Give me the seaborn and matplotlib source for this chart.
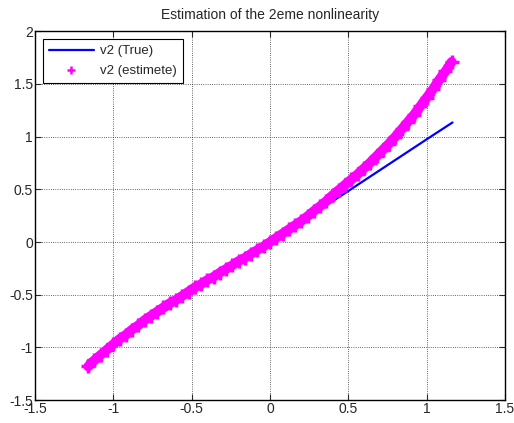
import matplotlib
matplotlib.use("Agg")
import matplotlib.pyplot as plt
import seaborn as sns
import pandas as pd

# ---- data ----
true_x = [-1.165, -0.5, 0.0, 0.5, 1.0, 1.165]
true_y = [-1.13, -0.49, 0.0, 0.485, 0.975, 1.135]

est_x = [-1.16, -1.12, -1.08, -1.04, -1.00, -0.96, -0.92, -0.88, -0.84, -0.80,
         -0.76, -0.72, -0.68, -0.64, -0.60, -0.56, -0.52, -0.48, -0.44, -0.40,
         -0.36, -0.32, -0.28, -0.24, -0.20, -0.16, -0.12, -0.08, -0.04, 0.00,
         0.04, 0.08, 0.12, 0.16, 0.20, 0.24, 0.28, 0.32, 0.36, 0.40,
         0.44, 0.48, 0.52, 0.56, 0.60, 0.64, 0.68, 0.72, 0.76, 0.80,
         0.84, 0.88, 0.92, 0.96, 1.00, 1.04, 1.08, 1.12, 1.16]
est_y = [-1.18, -1.12, -1.07, -1.02, -0.97, -0.92, -0.88, -0.83, -0.79, -0.74,
         -0.70, -0.66, -0.62, -0.58, -0.55, -0.51, -0.47, -0.43, -0.40, -0.36,
         -0.33, -0.29, -0.255, -0.22, -0.18, -0.15, -0.11, -0.075, -0.04, 0.00,
         0.04, 0.08, 0.12, 0.16, 0.20, 0.245, 0.295, 0.34, 0.39, 0.445,
         0.495, 0.545, 0.595, 0.645, 0.70, 0.755, 0.815, 0.875, 0.935, 1.00,
         1.07, 1.14, 1.21, 1.29, 1.37, 1.45, 1.54, 1.62, 1.71]

x_ticks = [-1.5, -1, -0.5, 0, 0.5, 1, 1.5]
y_ticks = [-1.5, -1, -0.5, 0, 0.5, 1, 1.5, 2]
x_labels = ["-1.5", "-1", "-0.5", "0", "0.5", "1", "1.5"]
y_labels = ["-1.5", "-1", "-0.5", "0", "0.5", "1", "1.5", "2"]

title = "Estimation of the 2eme nonlinearity"
label_true = "v2 (True)"
label_est = "v2 (estimete)"

df_true = pd.DataFrame({"x": true_x, "y": true_y})
df_est = pd.DataFrame({"x": est_x, "y": est_y})

sns.set_style("white")
plt.rcParams["font.family"] = ["Liberation Sans", "DejaVu Sans"]

fig = plt.figure(figsize=(5.14, 4.23), dpi=100)
ax = fig.add_axes([0.068, 0.054, 0.9145, 0.872])

sns.lineplot(data=df_true, x="x", y="y", ax=ax, color="#0000ff", linewidth=1.6,
             sort=False, label=label_true, zorder=3)
sns.lineplot(data=df_est, x="x", y="y", ax=ax, color="#ff00ff", linewidth=7.0,
             sort=False, legend=False, zorder=4)
sns.scatterplot(data=df_est, x="x", y="y", ax=ax, color="#ff00ff", marker="+",
                s=90, linewidth=2.5, label=label_est, zorder=5)

ax.set_xlim(-1.5, 1.5)
ax.set_ylim(-1.5, 2)
ax.set_xticks(x_ticks)
ax.set_xticklabels(x_labels)
ax.set_yticks(y_ticks)
ax.set_yticklabels(y_labels)
ax.set_xlabel("")
ax.set_ylabel("")
ax.set_title(title, fontsize=10, pad=9)

ax.grid(True, color="black", linestyle=":", linewidth=0.6, alpha=0.8)
ax.set_axisbelow(True)
ax.tick_params(direction="in", length=4, width=0.8, labelsize=10,
               top=True, right=True, bottom=True, left=True, pad=1.5)
for s in ax.spines.values():
    s.set_color("black")
    s.set_linewidth(1.0)
    s.set_visible(True)

leg = ax.legend(loc="upper left", fontsize=9.5, frameon=True, fancybox=False,
                edgecolor="black", framealpha=1, borderaxespad=0.6,
                handlelength=3.4, handletextpad=0.5, borderpad=0.45,
                labelspacing=0.55)
leg.get_frame().set_linewidth(0.8)
for h in leg.legend_handles:
    if hasattr(h, "set_sizes"):
        h.set_sizes([40])
        h.set_linewidth(1.8)

fig.savefig("out.png", dpi=100)
